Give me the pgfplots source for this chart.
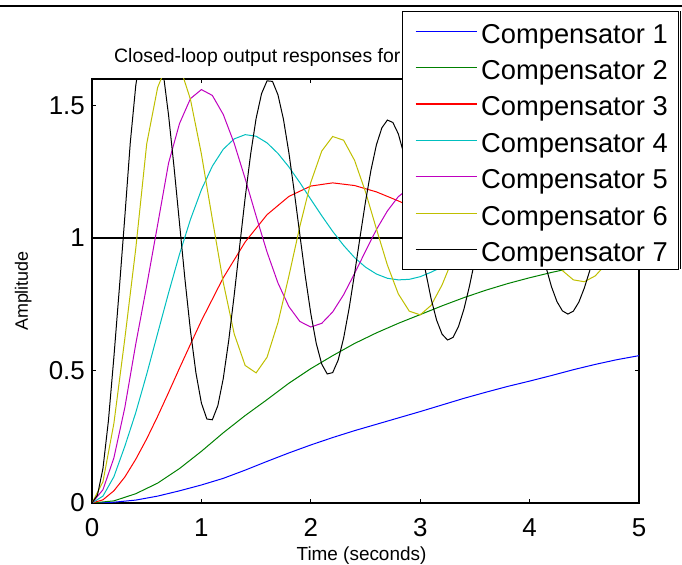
\documentclass[border=0pt]{standalone}
\usepackage{fontspec}
\setmainfont{Liberation Sans}
\usepackage{pgfplots}
\pgfplotsset{compat=1.18}
\definecolor{mgreen}{rgb}{0,0.5,0}
\definecolor{mcyan}{rgb}{0,0.75,0.75}
\definecolor{mmagenta}{rgb}{0.75,0,0.75}
\definecolor{myellow}{rgb}{0.75,0.75,0}

\begin{document}
\begin{tikzpicture}
\path[use as bounding box] (0,0) rectangle (682bp,565bp);
\begin{axis}[
  at={(92bp,62bp)}, anchor=south west,
  scale only axis, width=547bp, height=424bp,
  xmin=0, xmax=5, ymin=0, ymax=1.6,
  xtick={0,1,2,3,4,5}, ytick={0,0.5,1,1.5},
  tick align=inside, major tick length=4bp,
  axis line style={line width=1.1bp},
  every tick/.style={black, line width=0.8bp},
  tick label style={font=\fontsize{26}{30}\selectfont, inner sep=0pt},
  xticklabel style={yshift=-15bp},
  yticklabel style={xshift=-7bp},
  /pgf/number format/assume math mode=true,
  title={Closed-loop output responses for},
  title style={at={(axis description cs:0,1)}, anchor=base west, xshift=22bp, yshift=11bp,
    inner sep=0pt, font=\fontsize{19.5}{23}\selectfont},
  xlabel={Time (seconds)},
  xlabel style={at={(axis description cs:0.5,-0.136)}, anchor=base, xshift=-4bp,
    inner sep=0pt, font=\fontsize{19}{23}\selectfont},
  ylabel={Amplitude},
  ylabel style={at={(axis description cs:-0.117,0.5)}, anchor=base, rotate=0,
    inner sep=0pt, font=\fontsize{18}{22}\selectfont},
  legend style={at={(axis description cs:1.0731,1.1604)}, anchor=north east,
    draw=black, line width=0.9bp, fill=white, inner xsep=0bp, inner ysep=1.66bp,
    row sep=0bp, font=\fontsize{27.4}{31}\selectfont,
    nodes={inner xsep=4bp, inner ysep=3bp, text height=27bp, text depth=3.4bp}},
  legend cell align=left,
  legend image code/.code={\path (0bp,0bp); \draw[#1, line width=1.2bp] (13bp,0bp) -- (74bp,0bp);},
]

% step input reference
\addplot[black, line width=1.3bp, forget plot] coordinates {(0,1) (5,1)};

% Compensator 1
\addplot[blue, line width=1bp] coordinates {
(0,0) (0.2,0.003) (0.4,0.011) (0.6,0.026) (0.8,0.046) (1.0,0.068)
(1.2,0.093) (1.4,0.124) (1.6,0.157) (1.8,0.189) (2.0,0.219) (2.2,0.247)
(2.4,0.273) (2.6,0.297) (2.8,0.321) (3.0,0.345) (3.2,0.370) (3.4,0.395)
(3.6,0.418) (3.8,0.440) (4.0,0.460) (4.2,0.481) (4.4,0.503) (4.6,0.523)
(4.8,0.541) (5.0,0.556)};
\addlegendentry{Compensator 1\rule{6.7bp}{0pt}}

% Compensator 2
\addplot[mgreen, line width=1bp] coordinates {
(0,0) (0.2,0.008) (0.4,0.035) (0.6,0.075) (0.8,0.130) (1.0,0.195)
(1.2,0.265) (1.4,0.330) (1.6,0.390) (1.8,0.452) (2.0,0.507) (2.2,0.556)
(2.4,0.602) (2.6,0.642) (2.8,0.678) (3.0,0.711) (3.2,0.744) (3.4,0.775)
(3.6,0.803) (3.8,0.828) (4.0,0.850) (4.2,0.870) (4.4,0.888) (4.6,0.904)
(4.8,0.918) (5.0,0.930)};
\addlegendentry{Compensator 2\rule{6.7bp}{0pt}}

% Compensator 3
\addplot[red, line width=1bp] coordinates {
(0,0) (0.1,0.012) (0.2,0.046) (0.3,0.098) (0.4,0.165) (0.5,0.242)
(0.6,0.327) (0.7,0.417) (0.8,0.509) (0.9,0.599) (1.0,0.688) (1.2,0.850)
(1.4,0.985) (1.6,1.088) (1.8,1.157) (2.0,1.196) (2.2,1.208) (2.4,1.198)
(2.6,1.174) (2.8,1.140) (3.0,1.102) (3.2,1.065) (3.4,1.031) (3.6,1.003)
(3.8,0.982) (4.0,0.967) (4.2,0.959) (4.4,0.957) (4.6,0.959) (4.8,0.964)
(5.0,0.971)};
\addlegendentry{Compensator 3\rule{6.7bp}{0pt}}

% Compensator 4
\addplot[mcyan, line width=1bp] coordinates {
(0,0) (0.1,0.026) (0.2,0.099) (0.3,0.214) (0.4,0.341) (0.5,0.486)
(0.6,0.640) (0.7,0.793) (0.8,0.939) (0.9,1.070) (1.0,1.182) (1.1,1.271)
(1.2,1.335) (1.3,1.374) (1.4,1.390) (1.5,1.384) (1.6,1.359) (1.7,1.319)
(1.8,1.268) (1.9,1.209) (2.0,1.146) (2.1,1.084) (2.2,1.025) (2.3,0.972)
(2.4,0.926) (2.5,0.890) (2.6,0.864) (2.7,0.848) (2.8,0.842) (2.9,0.844)
(3.0,0.854) (3.1,0.871) (3.2,0.891) (3.3,0.915) (3.4,0.941) (3.5,0.966)
(3.6,0.990) (3.7,1.012) (3.8,1.030) (3.9,1.045) (4.0,1.055) (4.1,1.062)
(4.2,1.064) (4.3,1.063) (4.4,1.059) (4.5,1.053) (4.6,1.044) (4.7,1.034)
(4.8,1.024) (4.9,1.014) (5.0,1.004)};
\addlegendentry{Compensator 4\rule{6.7bp}{0pt}}

% Compensator 5
\addplot[mmagenta, line width=1bp] coordinates {
(0,0) (0.1,0.05) (0.2,0.17) (0.3,0.36) (0.4,0.60) (0.5,0.82)
(0.6,1.05) (0.7,1.283) (0.8,1.432) (0.9,1.526) (1.0,1.560) (1.1,1.538)
(1.2,1.466) (1.3,1.357) (1.4,1.224) (1.5,1.083) (1.6,0.947) (1.7,0.830)
(1.8,0.741) (1.9,0.685) (2.0,0.664) (2.1,0.678) (2.2,0.721) (2.3,0.786)
(2.4,0.866) (2.5,0.950) (2.6,1.032) (2.7,1.102) (2.8,1.156) (2.9,1.189)
(3.0,1.202) (3.1,1.194) (3.2,1.168) (3.3,1.128) (3.4,1.081) (3.5,1.030)
(3.6,0.983) (3.7,0.943) (3.8,0.912) (3.9,0.893) (4.0,0.887) (4.1,0.891)
(4.2,0.903) (4.3,0.925) (4.4,0.952) (4.5,0.982) (4.6,1.011) (4.7,1.037)
(4.8,1.056) (4.9,1.068) (5.0,1.073)};
\addlegendentry{Compensator 5\rule{6.7bp}{0pt}}

% Compensator 6
\addplot[myellow, line width=1bp] coordinates {
(0,0) (0.1,0.08) (0.2,0.30) (0.3,0.62) (0.4,0.96) (0.5,1.355)
(0.6,1.568) (0.7,1.670) (0.8,1.651) (0.9,1.523) (1.0,1.317) (1.1,1.071)
(1.2,0.832) (1.3,0.638) (1.4,0.519) (1.5,0.491) (1.6,0.550) (1.7,0.681)
(1.8,0.857) (1.9,1.044) (2.0,1.210) (2.1,1.328) (2.2,1.383) (2.3,1.369)
(2.4,1.293) (2.5,1.174) (2.6,1.034) (2.7,0.898) (2.8,0.789) (2.9,0.724)
(3.0,0.710) (3.1,0.746) (3.2,0.823) (3.3,0.924) (3.4,1.030) (3.5,1.124)
(3.6,1.190) (3.7,1.219) (3.8,1.209) (3.9,1.164) (4.0,1.095) (4.1,1.015)
(4.2,0.938) (4.3,0.877) (4.4,0.842) (4.5,0.835) (4.6,0.857) (4.7,0.902)
(4.8,0.959) (4.9,1.020) (5.0,1.073)};
\addlegendentry{Compensator 6\rule{6.7bp}{0pt}}

% Compensator 7
\addplot[black, line width=1bp] coordinates {
(0,0) (0.05,0.03) (0.10,0.13) (0.15,0.31) (0.20,0.55) (0.25,0.81)
(0.30,1.08) (0.35,1.36) (0.40,1.575) (0.45,1.712) (0.50,1.787) (0.55,1.797)
(0.60,1.741) (0.65,1.626) (0.70,1.463) (0.75,1.267) (0.80,1.055) (0.85,0.843)
(0.90,0.650) (0.95,0.491) (1.00,0.377) (1.05,0.317) (1.10,0.314) (1.15,0.367)
(1.20,0.470) (1.25,0.614) (1.30,0.785) (1.35,0.970) (1.40,1.152) (1.45,1.316)
(1.50,1.451) (1.55,1.545) (1.60,1.593) (1.65,1.591) (1.70,1.540) (1.75,1.448)
(1.80,1.321) (1.85,1.171) (1.90,1.012) (1.95,0.855) (2.00,0.715) (2.05,0.602)
(2.10,0.524) (2.15,0.487) (2.20,0.492) (2.25,0.539) (2.30,0.622) (2.35,0.734)
(2.40,0.865) (2.45,1.003) (2.50,1.137) (2.55,1.256) (2.60,1.352) (2.65,1.416)
(2.70,1.445) (2.75,1.436) (2.80,1.393) (2.85,1.318) (2.90,1.220) (2.95,1.106)
(3.00,0.987) (3.05,0.872) (3.10,0.770) (3.15,0.690) (3.20,0.637) (3.25,0.615)
(3.30,0.625) (3.35,0.666) (3.40,0.732) (3.45,0.818) (3.50,0.917) (3.55,1.021)
(3.60,1.119) (3.65,1.206) (3.70,1.273) (3.75,1.316) (3.80,1.333) (3.85,1.322)
(3.90,1.285) (3.95,1.225) (4.00,1.149) (4.05,1.063) (4.10,0.974) (4.15,0.890)
(4.20,0.816) (4.25,0.760) (4.30,0.725) (4.35,0.713) (4.40,0.724) (4.45,0.758)
(4.50,0.811) (4.55,0.877) (4.60,0.952) (4.65,1.029) (4.70,1.102) (4.75,1.164)
(4.80,1.211) (4.85,1.240) (4.90,1.248) (4.95,1.236) (5.00,1.205)};
\addlegendentry{Compensator 7\rule{6.7bp}{0pt}}

\end{axis}
% figure frame line at the top and legend edge
\draw[line width=2bp] (0,558.5bp) -- (682bp,558.5bp);
\draw[line width=1.5bp] (680.7bp,296bp) -- (680.7bp,554bp);
\end{tikzpicture}
\end{document}
